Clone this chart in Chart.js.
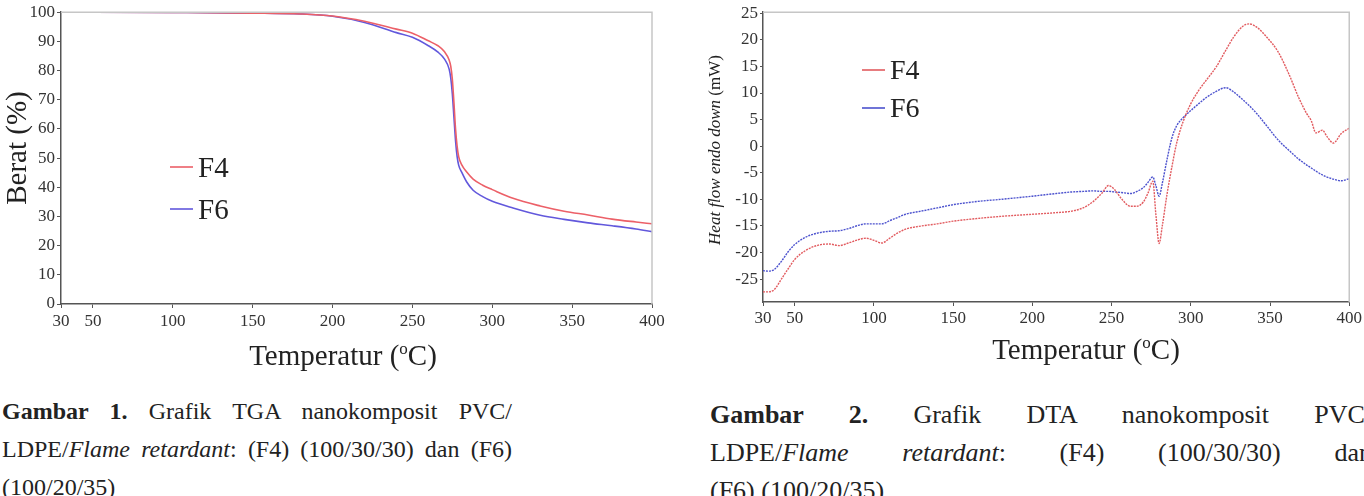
<!DOCTYPE html>
<html>
<head>
<meta charset="utf-8">
<script src="https://cdn.jsdelivr.net/npm/chart.js@4"></script>
<style>
  html, body { margin: 0; padding: 0; background: #fff; overflow: hidden; }
  body { width: 1364px; height: 496px; position: relative; font-family: "Liberation Serif", serif; color: #222; }
  canvas { position: absolute; top: 0; }
  #tga { left: 0; }
  #dta { left: 682px; }
  .cap { position: absolute; font-size: 24px; line-height: 38px; }
  .cap div { text-align: justify; text-align-last: justify; }
  .cap div.last { text-align-last: left; }
</style>
</head>
<body>
<canvas id="tga" width="682" height="380"></canvas>
<canvas id="dta" width="682" height="380"></canvas>

<div class="cap" style="left:2px; top:392px; width:510px;">
  <div><b>Gambar 1.</b> Grafik TGA nanokomposit PVC/</div>
  <div>LDPE/<i>Flame retardant</i>: (F4) (100/30/30) dan (F6)</div>
  <div class="last">(100/20/35)</div>
</div>
<div class="cap" style="left:710px; top:396px; width:662px; font-size:26px;">
  <div><b>Gambar 2.</b> Grafik DTA nanokomposit PVC/</div>
  <div>LDPE/<i>Flame retardant</i>: (F4) (100/30/30) dan</div>
  <div class="last">(F6) (100/20/35)</div>
</div>

<script>
// TGA (Gambar 1)
const tgaTemp = [30, 50, 100, 150, 180, 200, 220, 240, 250, 260, 266, 270, 273, 274, 275, 276, 277, 278, 279, 281, 284, 288, 294, 300, 313, 330, 345, 360, 375, 390, 400];
const tgaF4 = [100, 100, 99.9, 99.7, 99.4, 98.7, 96.9, 94.2, 92.8, 90.2, 88.5, 86.5, 83.6, 81.5, 77, 69, 60, 54, 50.4, 47.6, 45.2, 42.8, 40.7, 39.2, 36.2, 33.6, 31.8, 30.5, 29.1, 28.1, 27.5];
const tgaF6 = [100, 100, 99.9, 99.7, 99.4, 98.6, 96.5, 93.0, 91.4, 88.5, 86.3, 84, 80.5, 77.5, 72, 64, 56, 50.5, 47.5, 45, 41.8, 39, 36.8, 35.2, 32.9, 30.4, 29, 27.8, 26.8, 25.7, 24.8];
const tgaXTicks = [30, 50, 100, 150, 200, 250, 300, 350, 400];
const tgaYTicks = [0, 10, 20, 30, 40, 50, 60, 70, 80, 90, 100];

// DTA (Gambar 2)
const dtaTemp = [30, 33, 37, 42, 46, 50, 57, 65, 72, 78, 84, 90, 95, 100, 105, 110, 115, 120, 130, 140, 150, 165, 180, 200, 215, 225, 232, 238, 244, 248, 252, 256, 262, 266, 270, 273, 276, 278, 280, 282, 285, 288, 291, 295, 300, 305, 310, 316, 322, 327, 333, 337, 342, 348, 355, 362, 368, 373, 376, 379, 383, 386, 390, 395, 400];
const dtaF4 = [-27.4, -27.4, -27.0, -24.8, -23, -21.3, -19.6, -18.6, -18.4, -18.7, -18.2, -17.6, -17.3, -17.7, -18.2, -17.3, -16.3, -15.6, -15.0, -14.6, -14.1, -13.6, -13.2, -12.8, -12.5, -12.2, -11.6, -10.5, -8.8, -7.4, -8.2, -9.8, -11.3, -11.3, -10.5, -8.8, -6.6, -13, -18.3, -15, -9, -4, 0.5, 4.5, 8.0, 10.5, 12.5, 14.9, 18.0, 20.5, 22.6, 23.0, 22.3, 20.5, 17.8, 13.5, 9.2, 6.2, 4.8, 2.5, 3.0, 1.8, 0.6, 2.4, 3.4];
const dtaF6 = [-23.4, -23.5, -23.2, -21.5, -19.8, -18.5, -17.1, -16.3, -16.0, -15.9, -15.5, -14.9, -14.6, -14.6, -14.6, -14.0, -13.4, -12.8, -12.2, -11.6, -11.0, -10.4, -10.0, -9.4, -8.9, -8.6, -8.5, -8.4, -8.5, -8.5, -8.6, -8.7, -8.9, -8.5, -7.8, -6.8, -5.8, -7.5, -9.4, -7, -2.5, 1.5, 3.8, 5.3, 6.7, 8, 9.2, 10.3, 11.0, 10.2, 8.7, 7.6, 6.0, 3.8, 1.2, -0.8, -2.4, -3.5, -4.1, -4.7, -5.4, -5.8, -6.2, -6.5, -6.1];
const dtaXTicks = [30, 50, 100, 150, 200, 250, 300, 350, 400];
const dtaYTicks = [-25, -20, -15, -10, -5, 0, 5, 10, 15, 20, 25];

const seriesNames = ['F4', 'F6'];

const SERIF = '"Liberation Serif", serif';
Chart.defaults.font.family = SERIF;

function fontOf(p, size) {
  return (p.italic ? 'italic ' : '') + Math.round(size * (p.scale || 1)) + 'px ' + SERIF;
}

// draws a line of mixed text centred on (x, y)
function drawRich(ctx, parts, x, y, size, rot) {
  ctx.save();
  ctx.translate(x, y);
  ctx.rotate(rot || 0);
  ctx.textBaseline = 'alphabetic';
  ctx.textAlign = 'left';
  let total = 0;
  parts.forEach(p => { ctx.font = fontOf(p, size); total += ctx.measureText(p.t).width; });
  let cx = -total / 2;
  parts.forEach(p => {
    ctx.font = fontOf(p, size);
    ctx.fillText(p.t, cx, size * 0.33 + (p.dy || 0) * size);
    cx += ctx.measureText(p.t).width;
  });
  ctx.restore();
}

const decor = {
  id: 'decor',
  afterDraw(chart, args, opts) {
    const { ctx, chartArea: a } = chart;
    ctx.save();
    ctx.strokeStyle = '#c6c6c6';
    ctx.lineWidth = 1.5;
    ctx.beginPath();
    ctx.moveTo(a.left, a.top);
    ctx.lineTo(a.right, a.top);
    ctx.lineTo(a.right, a.bottom);
    ctx.stroke();

    ctx.fillStyle = '#222';
    opts.titles.forEach(t => drawRich(ctx, t.parts, t.x, t.y, t.size, t.rot));

    const lg = opts.legend;
    chart.data.datasets.forEach((ds, i) => {
      const y = lg.y + i * lg.gap;
      ctx.strokeStyle = ds.borderColor;
      ctx.lineWidth = 1.6;
      ctx.beginPath();
      ctx.moveTo(lg.x, y);
      ctx.lineTo(lg.x + lg.len, y);
      ctx.stroke();
      ctx.fillStyle = '#222';
      ctx.font = lg.size + 'px ' + SERIF;
      ctx.textBaseline = 'alphabetic';
      ctx.fillText(ds.label, lg.x + lg.len + 5, y + lg.size * 0.33);
    });
    ctx.restore();
  }
};

function points(xs, ys) {
  return xs.map((x, i) => ({ x: x, y: ys[i] }));
}

function axis(o) {
  return {
    type: 'linear',
    min: o.min,
    max: o.max,
    grid: { drawOnChartArea: false, drawTicks: true, tickLength: o.tickLength, color: '#555' },
    border: { color: '#555', width: 1.5 },
    ticks: { font: { family: SERIF, size: o.fontSize }, color: '#333', padding: o.padding, maxRotation: 0, autoSkip: false },
    afterBuildTicks: s => { s.ticks = o.values.map(v => ({ value: v })); },
    afterFit: s => { if (o.width) s.width = o.width; if (o.height) s.height = o.height; }
  };
}

const tempTitle = [{ t: 'Temperatur (' }, { t: 'o', scale: 0.6, dy: -0.38 }, { t: 'C)' }];

new Chart(document.getElementById('tga'), {
  type: 'line',
  data: {
    datasets: [
      { label: seriesNames[0], data: points(tgaTemp, tgaF4), borderColor: 'rgb(236, 96, 104)', borderWidth: 1.6, pointRadius: 0, cubicInterpolationMode: 'monotone' },
      { label: seriesNames[1], data: points(tgaTemp, tgaF6), borderColor: 'rgb(98, 88, 220)', borderWidth: 1.6, pointRadius: 0, cubicInterpolationMode: 'monotone' }
    ]
  },
  options: {
    responsive: false,
    animation: false,
    layout: { padding: { left: 0, top: 8, right: 30, bottom: 0 } },
    plugins: {
      legend: { display: false },
      tooltip: { enabled: false },
      decor: {
        titles: [
          { parts: tempTitle, x: 343, y: 355, size: 29 },
          { parts: [{ t: 'Berat (%)' }], x: 16, y: 148, size: 29, rot: -Math.PI / 2 }
        ],
        legend: { x: 170, y: 167, gap: 42, len: 23, size: 29 }
      }
    },
    scales: {
      x: axis({ min: 30, max: 400, values: tgaXTicks, tickLength: 4, padding: 3, fontSize: 17, height: 76 }),
      y: axis({ min: 0, max: 100, values: tgaYTicks, tickLength: 4, padding: 2, fontSize: 17, width: 61 })
    }
  },
  plugins: [decor]
});

new Chart(document.getElementById('dta'), {
  type: 'line',
  data: {
    datasets: [
      { label: seriesNames[0], data: points(dtaTemp, dtaF4), borderColor: 'rgb(226, 92, 96)', borderWidth: 1.4, borderDash: [2, 1], pointRadius: 0, cubicInterpolationMode: 'monotone' },
      { label: seriesNames[1], data: points(dtaTemp, dtaF6), borderColor: 'rgb(76, 82, 206)', borderWidth: 1.4, borderDash: [2, 1], pointRadius: 0, cubicInterpolationMode: 'monotone' }
    ]
  },
  options: {
    responsive: false,
    animation: false,
    layout: { padding: { left: 0, top: 5, right: 5, bottom: 0 } },
    plugins: {
      legend: { display: false },
      tooltip: { enabled: false },
      decor: {
        titles: [
          { parts: tempTitle, x: 404, y: 349, size: 29 },
          { parts: [{ t: 'Heat flow endo down ', italic: true }, { t: '(mW)' }], x: 32, y: 150, size: 17, rot: -Math.PI / 2 }
        ],
        legend: { x: 180, y: 70, gap: 38, len: 23, size: 28 }
      }
    },
    scales: {
      x: axis({ min: 30, max: 400, values: dtaXTicks, tickLength: 4, padding: 2, fontSize: 17, height: 78 }),
      y: axis({ min: -29.3, max: 25.2, values: dtaYTicks, tickLength: 3, padding: 2, fontSize: 17, width: 81 })
    }
  },
  plugins: [decor]
});
</script>
</body>
</html>
